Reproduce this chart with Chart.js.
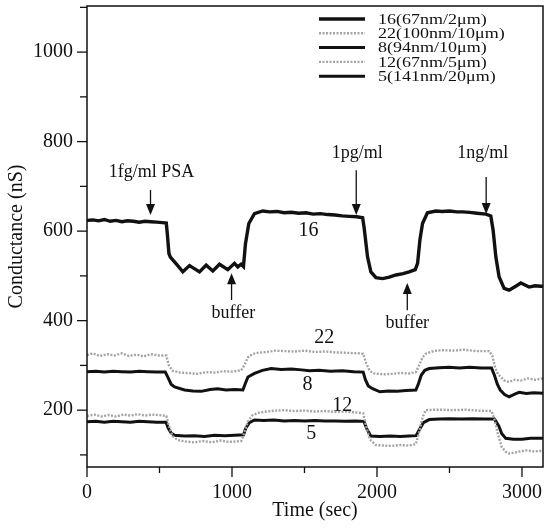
<!DOCTYPE html>
<html>
<head>
<meta charset="utf-8">
<script src="https://cdn.jsdelivr.net/npm/chart.js@4.4.1/dist/chart.umd.min.js"></script>
<style>
  body { margin: 0; background: #fff; }
  #wrap { width: 551px; height: 528px; }
</style>
</head>
<body>
<div id="wrap"><canvas id="grafico"></canvas></div>
<script>
// Datos: [tiempo (s), conductancia (nS)]
const serie16 = [[0,624],[40,625],[80,623],[120,626],[160,622],[200,624],[240,621],[280,623],[320,622],[360,620],
  [400,622],[440,621],[480,620],[520,619],[547,618],[555,590],[565,550],[575,542],[620,525],[661,509],
  [707,523],[776,509],[822,524],[868,511],[914,526],[971,514],[1017,528],[1040,520],[1063,526],[1079,521],
  [1093,572],[1116,617],[1155,639],[1212,645],[1260,643],[1310,644],[1360,641],[1410,642],[1460,640],[1510,641],
  [1560,638],[1610,639],[1660,637],[1710,636],[1760,634],[1810,633],[1860,632],[1901,630],[1912,606],[1935,542],
  [1958,509],[1993,496],[2039,494],[2085,497],[2131,502],[2180,505],[2222,509],[2264,514],[2280,528],[2296,580],
  [2314,617],[2348,641],[2406,645],[2450,644],[2500,645],[2550,643],[2590,643],[2640,642],[2690,640],[2751,638],
  [2785,634],[2801,602],[2820,542],[2842,498],[2877,472],[2911,468],[2957,477],[2992,484],[3049,475],[3090,478],
  [3130,477],[3145,477]];

const serie22 = [[0,323],[40,327],[90,321],[140,325],[190,322],[240,327],[290,321],[340,324],[390,320],[440,325],
  [500,322],[547,322],[565,300],[590,288],[640,284],[700,283],[760,281],[820,285],[880,284],[940,287],
  [1000,286],[1063,289],[1085,300],[1110,318],[1140,325],[1176,328],[1240,330],[1300,333],[1362,332],[1430,331],
  [1500,333],[1570,330],[1640,331],[1720,329],[1800,328],[1870,327],[1905,326],[1925,305],[1950,288],[1981,282],
  [2040,280],[2100,281],[2160,283],[2220,282],[2268,285],[2290,300],[2315,318],[2337,326],[2390,332],[2450,334],
  [2520,333],[2600,335],[2680,332],[2773,332],[2795,322],[2815,295],[2835,280],[2854,274],[2880,266],[2911,263],
  [2950,268],[2990,266],[3040,271],[3090,268],[3145,271]];

const serie8 = [[0,286],[60,287],[120,285],[180,287],[240,286],[300,285],[360,287],[420,286],[480,285],[540,285],
  [560,272],[580,258],[604,252],[673,245],[730,243],[788,242],[850,246],[900,248],[960,245],[1020,246],
  [1075,245],[1090,258],[1110,274],[1155,282],[1210,289],[1270,293],[1340,291],[1410,292],[1480,290],[1534,288],
  [1600,289],[1680,287],[1760,288],[1840,286],[1905,285],[1920,268],[1940,254],[1970,248],[2020,241],[2080,243],
  [2140,242],[2200,244],[2268,245],[2285,258],[2305,278],[2330,289],[2360,293],[2430,295],[2498,296],[2570,294],
  [2640,296],[2720,294],[2790,294],[2810,278],[2830,258],[2850,245],[2880,235],[2911,230],[2950,236],[2980,240],
  [3030,237],[3080,239],[3145,238]];

const serie12 = [[0,187],[50,190],[100,186],[150,189],[200,186],[250,190],[300,188],[350,191],[400,188],[450,190],
  [500,189],[547,187],[565,165],[590,142],[627,133],[680,130],[740,128],[800,131],[860,128],[920,132],
  [980,129],[1063,131],[1085,150],[1110,175],[1140,188],[1178,194],[1240,197],[1300,199],[1362,200],[1430,198],
  [1500,199],[1570,197],[1640,198],[1710,196],[1780,197],[1850,195],[1905,193],[1925,165],[1950,135],[1993,122],
  [2050,121],[2100,120],[2160,122],[2220,121],[2268,124],[2290,150],[2315,185],[2337,200],[2400,201],[2450,201],
  [2530,200],[2610,201],[2700,199],[2790,198],[2810,180],[2835,145],[2860,118],[2888,107],[2911,103],[2960,106],
  [3026,110],[3080,108],[3145,109]];

const serie5 = [[0,174],[60,175],[120,173],[180,175],[240,174],[300,173],[360,175],[420,174],[480,173],[545,173],
  [560,160],[580,149],[604,144],[670,142],[740,143],[810,141],[880,144],[950,143],[1020,144],[1080,145],
  [1095,160],[1120,172],[1155,178],[1220,177],[1290,178],[1360,176],[1430,177],[1500,176],[1570,177],[1640,176],
  [1710,176],[1780,175],[1850,176],[1910,175],[1930,158],[1958,142],[2020,141],[2090,142],[2160,141],[2220,142],
  [2270,143],[2290,155],[2320,172],[2360,179],[2430,180],[2500,181],[2580,180],[2660,181],[2740,180],[2810,180],
  [2840,165],[2860,148],[2888,137],[2940,135],[3000,135],[3060,137],[3145,137]];

const etiquetasLeyenda = ["16(67nm/2\u03bcm)", "22(100nm/10\u03bcm)", "8(94nm/10\u03bcm)", "12(67nm/5\u03bcm)", "5(141nm/20\u03bcm)"];

// Marcas de los ejes (las impares solo llevan raya)
const ticksX = [0, 500, 1000, 1500, 2000, 2500, 3000];
const ticksY = [100, 200, 300, 400, 500, 600, 700, 800, 900, 1000, 1100];

// Flechas: [x, y inicio, y punta]
const flechas = [[438, 692, 636], [1857, 736, 636], [2753, 721, 638], [997, 446, 506], [2209, 423, 484]];
// Textos: [texto, x, y]
const textos = [["1fg/ml PSA", 445, 732], ["1pg/ml", 1864, 774], ["1ng/ml", 2729, 774],
  ["buffer", 1010, 417], ["buffer", 2209, 394]];
const numeros = [["16", 1527, 600], ["22", 1637, 362], ["8", 1520, 256], ["12", 1761, 209], ["5", 1547, 147]];

const FUENTE = "'Liberation Serif', 'Times New Roman', serif";
const toXY = arr => arr.map(p => ({ x: p[0], y: p[1] }));

const negro = { borderColor: "#111", borderWidth: 3, borderDash: [] };
const gris = { borderColor: "#a4a4a4", borderWidth: 2.4, borderDash: [2, 1.5] };

const datasets = [
  Object.assign({ label: etiquetasLeyenda[0], data: toXY(serie16) }, negro, { borderWidth: 3.4 }),
  Object.assign({ label: etiquetasLeyenda[1], data: toXY(serie22) }, gris),
  Object.assign({ label: etiquetasLeyenda[2], data: toXY(serie8) }, negro),
  Object.assign({ label: etiquetasLeyenda[3], data: toXY(serie12) }, gris),
  Object.assign({ label: etiquetasLeyenda[4], data: toXY(serie5) }, negro)
];

const extras = {
  id: "extras",
  afterDraw(chart) {
    const { ctx, chartArea: a, scales: { x, y } } = chart;
    ctx.save();
    ctx.strokeStyle = "#111";
    ctx.fillStyle = "#111";
    ctx.lineWidth = 1.5;
    ctx.strokeRect(a.left, a.top, a.right - a.left, a.bottom - a.top);

    // marcas de los ejes
    ctx.lineWidth = 1.3;
    ticksX.forEach(v => {
      const px = x.getPixelForValue(v);
      const len = v % 1000 === 0 ? 10 : 6;
      ctx.beginPath(); ctx.moveTo(px, a.bottom); ctx.lineTo(px, a.bottom + len); ctx.stroke();
    });
    ticksY.forEach(v => {
      const py = y.getPixelForValue(v);
      const len = v % 200 === 0 ? 10 : 7;
      ctx.beginPath(); ctx.moveTo(a.left - len, py); ctx.lineTo(a.left, py); ctx.stroke();
    });

    // flechas
    ctx.lineWidth = 1.3;
    flechas.forEach(f => {
      const px = x.getPixelForValue(f[0]);
      const p0 = y.getPixelForValue(f[1]);
      const p1 = y.getPixelForValue(f[2]);
      const dir = p1 > p0 ? 1 : -1;
      ctx.beginPath(); ctx.moveTo(px, p0); ctx.lineTo(px, p1 - dir * 8); ctx.stroke();
      ctx.beginPath();
      ctx.moveTo(px, p1);
      ctx.lineTo(px - 4.5, p1 - dir * 11);
      ctx.lineTo(px + 4.5, p1 - dir * 11);
      ctx.closePath(); ctx.fill();
    });

    ctx.textAlign = "center";
    ctx.textBaseline = "middle";
    ctx.font = "18px " + FUENTE;
    textos.forEach(t => ctx.fillText(t[0], x.getPixelForValue(t[1]), y.getPixelForValue(t[2])));
    ctx.font = "20px " + FUENTE;
    numeros.forEach(t => ctx.fillText(t[0], x.getPixelForValue(t[1]), y.getPixelForValue(t[2])));

    // leyenda (texto algo aplastado, como en la figura)
    ctx.textAlign = "left";
    ctx.font = "18px " + FUENTE;
    chart.data.datasets.forEach((d, i) => {
      const ly = a.top + 13 + i * 14.3;
      const lx = a.right - 224;
      ctx.strokeStyle = d.borderColor;
      ctx.lineWidth = d.borderWidth;
      ctx.setLineDash(d.borderDash);
      ctx.beginPath(); ctx.moveTo(lx, ly); ctx.lineTo(lx + 46, ly); ctx.stroke();
      ctx.setLineDash([]);
      ctx.save();
      ctx.translate(lx + 59, ly + 1);
      ctx.scale(1, 0.8);
      ctx.fillText(d.label, 0, 0);
      ctx.restore();
    });
    ctx.restore();
  }
};

new Chart(document.getElementById("grafico"), {
  type: "line",
  data: { datasets: datasets },
  plugins: [extras],
  options: {
    responsive: true,
    maintainAspectRatio: false,
    animation: false,
    layout: { padding: { top: 6, right: 8, left: 0, bottom: 0 } },
    elements: { point: { radius: 0 }, line: { tension: 0 } },
    plugins: { legend: { display: false }, tooltip: { enabled: false } },
    scales: {
      x: {
        type: "linear",
        min: 0,
        max: 3145,
        grid: { display: false, drawTicks: false },
        border: { display: false },
        afterBuildTicks: s => { s.ticks = ticksX.filter(v => v % 1000 === 0).map(v => ({ value: v })); },
        afterFit: s => { s.height = 61; s.paddingLeft = 0; s.paddingRight = 0; },
        ticks: {
          autoSkip: false,
          maxRotation: 0,
          padding: 14,
          color: "#111",
          font: { family: FUENTE, size: 20 },
          callback: v => String(v)
        },
        title: { display: true, text: "Time (sec)", color: "#111", font: { family: FUENTE, size: 20 }, padding: { top: 0, bottom: 5 } }
      },
      y: {
        min: 73,
        max: 1103,
        grid: { display: false, drawTicks: false },
        border: { display: false },
        afterBuildTicks: s => { s.ticks = ticksY.filter(v => v % 200 === 0).map(v => ({ value: v })); },
        afterFit: s => { s.width = 87; s.paddingTop = 0; s.paddingBottom = 0; },
        ticks: {
          autoSkip: false,
          padding: 14,
          color: "#111",
          font: { family: FUENTE, size: 20 },
          callback: v => String(v)
        },
        title: { display: true, text: "Conductance (nS)", color: "#111", font: { family: FUENTE, size: 20 }, padding: { top: 5, bottom: 0 } }
      }
    }
  }
});
</script>
</body>
</html>
